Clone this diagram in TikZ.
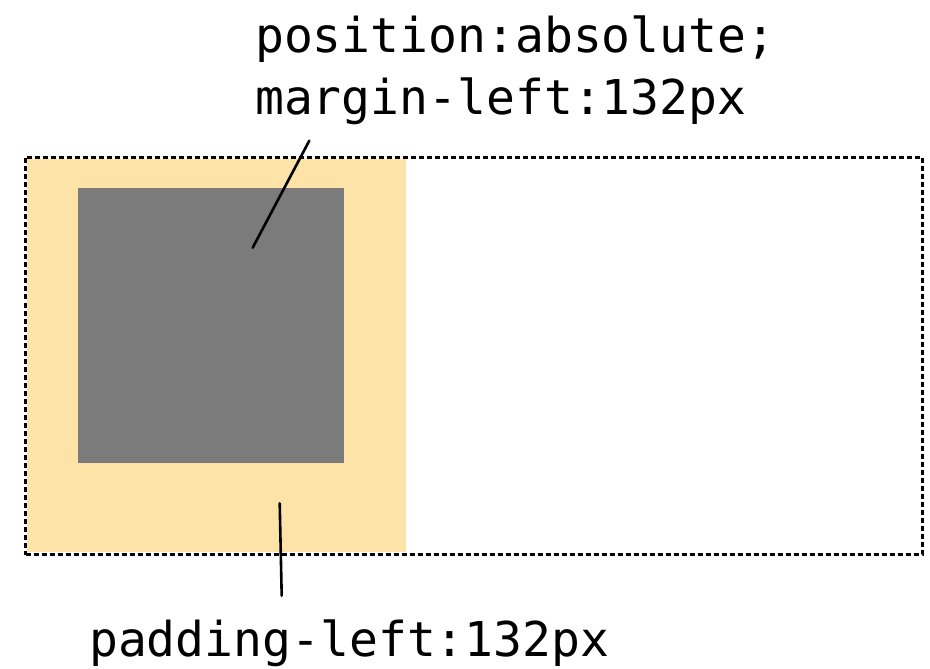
\documentclass[tikz,border=0pt]{standalone}
\usepackage{fontspec}
\setmonofont{DejaVu Sans Mono}
\usetikzlibrary{positioning}
\definecolor{giallo}{RGB}{253,227,167}
\definecolor{grigio}{RGB}{123,123,123}
\tikzset{
    etichetta/.style={font=\ttfamily\fontsize{48}{61}\selectfont, inner sep=0pt, anchor=base west},
    linea/.style={line width=2.6pt, line cap=round},
    riquadro/.style={rectangle, inner sep=0pt, anchor=north west},
}
\begin{document}
\begin{tikzpicture}[x=1pt,y=-1pt]
        \useasboundingbox (0,0) rectangle (930,669);
        %%%%%%%%%% Riquadri %%%%%%%%%%
        \node (padding) [riquadro, fill=giallo, minimum width=379pt, minimum height=393pt] at (27,159) {};
        \node (assoluto) [riquadro, fill=grigio, minimum width=266pt, minimum height=275pt] at (78,188) {};
        \node (contenitore) [riquadro, draw, line width=3pt, dash pattern=on 5pt off 3pt, minimum width=896.5pt, minimum height=397.5pt] at (24,155.5) {};

        %%%%%%%%%% Testi %%%%%%%%%%
        \node (posizione) [etichetta] at (255,53) {position:absolute;};
        \node (margine) [etichetta] at (255,114) {margin-left:132px};
        \node (spaziatura) [etichetta] at (89,656) {padding-left:132px};

        %%%%%%%%% Linee %%%%%%%%%
        \coordinate (inizioMargine) at (309.3,140.7);
        \coordinate (fineMargine) at (252.7,247.7);
        \coordinate (inizioPadding) at (279.7,503.3);
        \coordinate (finePadding) at (281.7,595.7);
        \draw[linea] (inizioMargine) -- (fineMargine);
        \draw[linea] (inizioPadding) -- (finePadding);
    \end{tikzpicture}
\end{document}
